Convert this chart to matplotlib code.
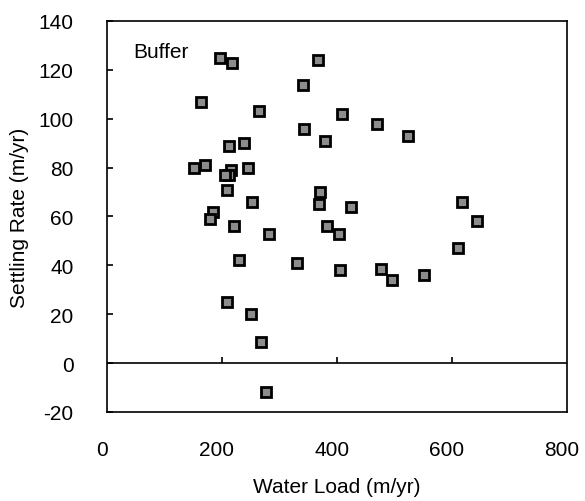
import matplotlib.pyplot as plt
import matplotlib.transforms as mtransforms

plt.rcParams['font.family'] = ['Liberation Sans', 'DejaVu Sans']
plt.rcParams['axes.unicode_minus'] = False

# Buffer data
water_load = [196, 218, 367, 341, 163, 265, 408, 343, 379, 213, 238,
              152, 171, 216, 213, 205, 246, 209, 253, 184, 180, 221,
              281, 371, 368, 382, 404, 470, 523, 424, 617, 644, 611,
              229, 330, 405, 209, 251, 268, 277, 476, 496, 551]
settling_rate = [125, 123, 124, 114, 107, 103, 102, 96, 91, 89, 90,
                 80, 81, 79, 77, 77, 80, 71, 66, 62, 59, 56,
                 53, 70, 65, 56, 53, 98, 93, 64, 66, 58, 47,
                 42, 41, 38, 25, 20, 8.5, -12, 38.5, 34, 36]

x_ticks = [0, 200, 400, 600, 800]
y_ticks = [-20, 0, 20, 40, 60, 80, 100, 120, 140]

fig = plt.figure(figsize=(5.85, 5.02), dpi=100)
ax = fig.add_axes([0.1829, 0.1773, 0.7863, 0.7789])

ax.plot(water_load, settling_rate, 's', ms=7, mfc='#8c8c8c', mec='black',
        mew=2, zorder=3)

# zero line with upward ticks
ax.axhline(0, color='black', lw=1.2)
ax.vlines(x_ticks[1:-1], 0, 2.5, color='black', lw=1.2)

ax.set_xlim(0, 800)
ax.set_ylim(-20, 140)
ax.set_xticks(x_ticks)
ax.set_yticks(y_ticks)
ax.tick_params(axis='x', length=0, pad=20, labelsize=15)
ax.tick_params(axis='y', direction='in', length=4, width=1.2, pad=24,
               labelsize=15, right=False)
for s in ax.spines.values():
    s.set_linewidth(1.2)

# x labels sit a little left of their ticks in the original
shift = mtransforms.ScaledTranslation(-5 / 100, 0, fig.dpi_scale_trans)
for lab in ax.get_xticklabels():
    lab.set_transform(lab.get_transform() + shift)

ax.set_xlabel('Water Load (m/yr)', fontsize=15, labelpad=13)
ax.set_ylabel('Settling Rate (m/yr)', fontsize=15, labelpad=7)
ax.text(0.057, 0.921, 'Buffer', transform=ax.transAxes, fontsize=15,
        va='center')

fig.savefig('out.png', dpi=100)
